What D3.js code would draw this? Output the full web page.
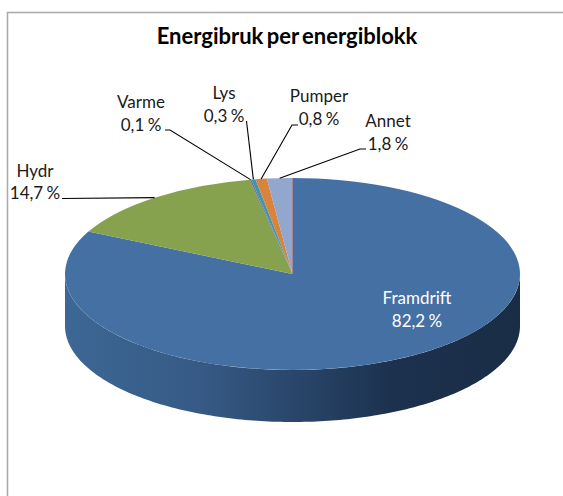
<!DOCTYPE html>
<html>
<head>
<meta charset="utf-8">
<script src="https://cdn.jsdelivr.net/npm/d3@7"></script>
<style>
    html, body { margin: 0; padding: 0; background: #fff; }
    text { font-family: Lato, "Open Sans", sans-serif; }
</style>
</head>
<body>
<svg id="chart"></svg>
<script>
var categories = ["Framdrift", "Hydr", "Varme", "Lys", "Pumper", "Annet"];
var shares = [82.2, 14.7, 0.1, 0.3, 0.8, 1.8];
var shareLabels = ["82,2 %", "14,7 %", "0,1 %", "0,3 %", "0,8 %", "1,8 %"];
var sliceColors = ["#4470a3", "#87a24e", "#7360a0", "#3c97ae", "#d9833d", "#92a7cd"];

var screen = {width: 563, height: 496};
var pieShape = {cx: 292.5, cy: 274, rx: 227.5, ry: 96, depth: 52};

// where each label sits and where its leader leaves it, index follows categories
var labelSpots = [
    {x: 417, y: 304},
    {x: 35, y: 176.5, elbow: [62, 198.5]},
    {x: 141, y: 108, elbow: [165, 130], elbow2: [170, 130]},
    {x: 224, y: 99, elbow: [246.5, 121]},
    {x: 319, y: 102, elbow: [298, 125], elbow2: [292, 125]},
    {x: 388, y: 127, elbow: [366, 149], elbow2: [360, 149]}
];

var svg = d3.select("#chart")
    .attr("width", screen.width)
    .attr("height", screen.height);

// chart frame, only left and top show in the picture
svg.append("path")
    .attr("d", "M7.5," + screen.height + "V12.5H" + screen.width)
    .attr("fill", "none")
    .attr("stroke", "#a9a9a9")
    .attr("stroke-width", 1.5);

svg.append("text")
    .text("Energibruk per energiblokk")
    .attr("x", 287)
    .attr("y", 43.5)
    .attr("text-anchor", "middle")
    .attr("font-size", 22)
    .attr("font-weight", 700)
    .attr("word-spacing", -2)
    .attr("fill", "#000");

// side wall gradient
var grad = svg.append("defs").append("linearGradient")
    .attr("id", "wall")
    .attr("x1", "0").attr("x2", "1").attr("y1", "0").attr("y2", "0");
grad.append("stop").attr("offset", "0").attr("stop-color", "#3d6795");
grad.append("stop").attr("offset", "0.3").attr("stop-color", "#365a85");
grad.append("stop").attr("offset", "0.72").attr("stop-color", "#1c314e");
grad.append("stop").attr("offset", "1").attr("stop-color", "#1a2d46");

var wallAngles = d3.range(90, 270.5, 1).map(function(d) { return d * Math.PI / 180; });
var wallArea = d3.area()
    .x(function(a) { return pieShape.cx + pieShape.rx * Math.sin(a); })
    .y0(function(a) { return pieShape.cy - pieShape.ry * Math.cos(a); })
    .y1(function(a) { return pieShape.cy - pieShape.ry * Math.cos(a) + pieShape.depth; });

svg.append("path")
    .datum(wallAngles)
    .attr("d", wallArea)
    .attr("fill", "url(#wall)");

// top of the pie: a circle pie squashed to an ellipse
var pie = d3.pie().sort(null).value(function(d) { return d; });
var arcs = pie(shares);
var arc = d3.arc().innerRadius(0).outerRadius(pieShape.rx);
var rimArc = d3.arc().innerRadius(pieShape.rx).outerRadius(pieShape.rx);
var squash = pieShape.ry / pieShape.rx;

svg.append("g")
    .attr("transform", "translate(" + pieShape.cx + "," + pieShape.cy + ") scale(1," + squash + ")")
    .selectAll("path")
    .data(arcs)
    .enter()
    .append("path")
    .attr("d", arc)
    .attr("fill", function(d, i) { return sliceColors[i]; });

// faint seam where the first slice starts
svg.append("line")
    .attr("x1", pieShape.cx)
    .attr("x2", pieShape.cx)
    .attr("y1", pieShape.cy)
    .attr("y2", pieShape.cy - pieShape.ry)
    .attr("stroke", "#a9798f")
    .attr("stroke-width", 0.8);

// leaders
var leader = d3.line();
arcs.forEach(function(d, i) {
    var spot = labelSpots[i];
    if (!spot.elbow) { return; }
    var rim = rimArc.centroid(d);
    var pts = [spot.elbow];
    if (spot.elbow2) { pts.push(spot.elbow2); }
    pts.push([pieShape.cx + rim[0], pieShape.cy + rim[1] * squash]);
    svg.append("path")
        .attr("d", leader(pts))
        .attr("fill", "none")
        .attr("stroke", "#000")
        .attr("stroke-width", 1.1);
});

// labels
categories.forEach(function(name, i) {
    var spot = labelSpots[i];
    var color = i == 0 ? "#fff" : "#1a1a1a";
    var t = svg.append("text")
        .attr("text-anchor", "middle")
        .attr("font-size", 17)
        .attr("word-spacing", -1)
        .attr("fill", color);
    t.append("tspan").attr("x", spot.x).attr("y", spot.y).text(name);
    t.append("tspan").attr("x", spot.x).attr("y", spot.y + 22.5).text(shareLabels[i]);
});
</script>
</body>
</html>
